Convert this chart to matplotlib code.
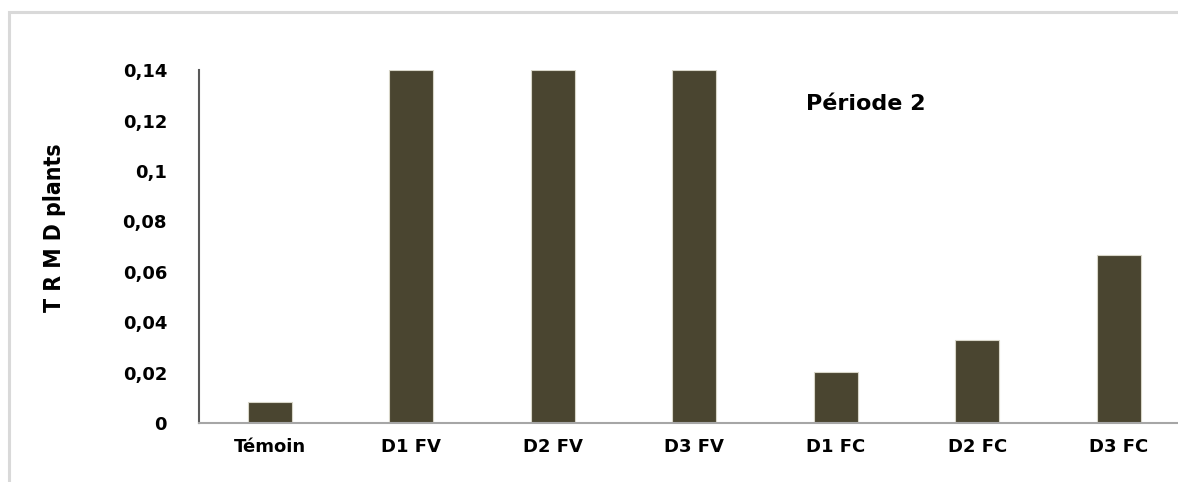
import matplotlib
matplotlib.use("Agg")
import matplotlib.pyplot as plt
from matplotlib.patches import Rectangle
from matplotlib.ticker import FuncFormatter
from matplotlib.transforms import blended_transform_factory

# donnees
traitements = ["Témoin", "D1 FV", "D2 FV", "D3 FV", "D1 FC", "D2 FC", "D3 FC"]
trmd = [0.0082, 0.14, 0.14, 0.14, 0.0201, 0.0331, 0.0665]
graduations = [0, 0.02, 0.04, 0.06, 0.08, 0.10, 0.12, 0.14]

couleur = "#4a4530"

fig = plt.figure(figsize=(11.78, 4.82), dpi=100)

# cadre gris clair autour du graphique
fig.patches.append(Rectangle((9 / 1178, -0.05), 1.1, 1 - 12 / 482 + 0.05,
                             transform=fig.transFigure, fill=False,
                             edgecolor="#d9d9d9", linewidth=2.2))

ax = fig.add_axes([199 / 1178, 59 / 482, 990.5 / 1178, 352.8 / 482])
x = range(len(traitements))
ax.bar(x, trmd, width=0.31, color=couleur, edgecolor="#d8d6c8", linewidth=0.8)

ax.set_xlim(-0.5, len(traitements) - 0.5)
ax.set_ylim(0, 0.14)
ax.set_yticks(graduations)
ax.yaxis.set_major_formatter(FuncFormatter(lambda v, p: ("%g" % round(v, 2)).replace(".", ",")))
ax.set_xticks(list(x))
ax.set_xticklabels(traitements)

for s in ["top", "right"]:
    ax.spines[s].set_visible(False)
ax.spines["left"].set_color("#595959")
ax.spines["left"].set_linewidth(1.5)
ax.spines["bottom"].set_color("#a6a6a6")
ax.spines["bottom"].set_linewidth(1.5)

ax.tick_params(axis="both", length=0, labelsize=13)
ax.tick_params(axis="y", pad=23)
ax.tick_params(axis="x", pad=11)
for lab in ax.get_xticklabels() + ax.get_yticklabels():
    lab.set_fontweight("bold")

# titre de l'axe y en police etroite
ax.set_ylabel("T R M D plants", family="DejaVu Sans", fontstretch="condensed",
              fontweight="bold", fontsize=16.5)
ax.yaxis.set_label_coords(66 / 1178, 0.553,
                          transform=blended_transform_factory(fig.transFigure, ax.transAxes))

ax.text(866 / 1178, 1 - 104 / 482, "Période 2", transform=fig.transFigure,
        ha="center", va="center", fontsize=16, fontweight="bold")

fig.savefig("out.png", dpi=100)
